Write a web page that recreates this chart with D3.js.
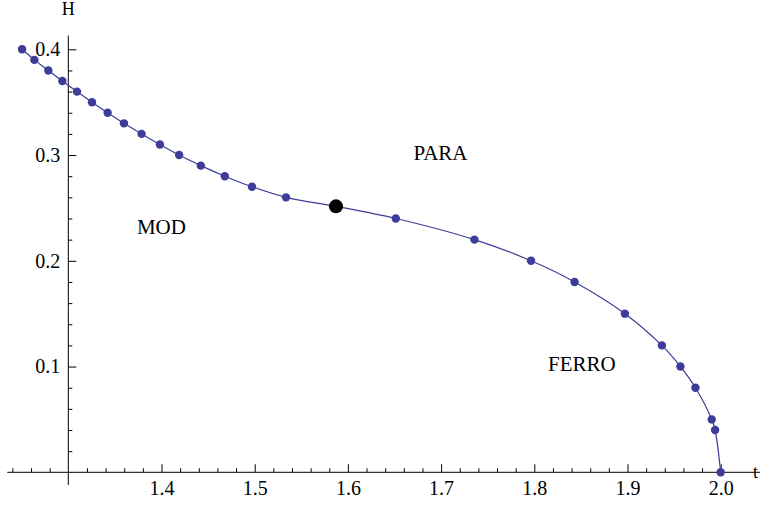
<!DOCTYPE html>
<html>
<head>
<meta charset="utf-8">
<script src="https://cdn.jsdelivr.net/npm/d3@7"></script>
<style>
  html, body { margin: 0; padding: 0; background: #fff; }
  svg { display: block; }
</style>
</head>
<body>
<svg id="chart" width="760" height="505"></svg>
<script>
// Phase boundary H(t): transition points
const tValues = [1.2504, 1.2636, 1.2786, 1.2936, 1.3093, 1.3254, 1.3422, 1.3597, 1.3786, 1.3983,
                 1.4189, 1.4422, 1.4679, 1.4971, 1.5336, 1.6514, 1.7358, 1.7965, 1.8432, 1.8972,
                 1.9369, 1.9568, 1.9729, 1.9904, 1.9940, 2.0000];
const hValues = [0.40, 0.39, 0.38, 0.37, 0.36, 0.35, 0.34, 0.33, 0.32, 0.31,
                 0.30, 0.29, 0.28, 0.27, 0.26, 0.24, 0.22, 0.20, 0.18, 0.15,
                 0.12, 0.10, 0.08, 0.05, 0.04, 0.00];
// Tricritical point
const tricritical = [1.5872, 0.2515];

const xMajorTicks = [1.4, 1.5, 1.6, 1.7, 1.8, 1.9, 2.0];
const xTickLabels = ["1.4", "1.5", "1.6", "1.7", "1.8", "1.9", "2.0"];
const yMajorTicks = [0.1, 0.2, 0.3, 0.4];
const yTickLabels = ["0.1", "0.2", "0.3", "0.4"];

const regionNames = ["MOD", "PARA", "FERRO"];
const regionT = [1.3999, 1.6993, 1.8510];
const regionH = [0.225, 0.295, 0.096];

const FONT = '"Liberation Serif", "Times New Roman", Times, serif';

const svg = d3.select("#chart").attr("font-family", FONT);

const x = d3.scaleLinear().domain([1.3, 2.0]).range([68.3, 720.7]);
const y = d3.scaleLinear().domain([0, 0.4]).range([472.3, 49.3]);

const xExtent = [1.2345, 2.0717];
const yExtent = [-0.012, 0.413];

const blue = "#3d3d99";
const axisColor = "#000";

// Axis lines
svg.append("line")
  .attr("x1", x(xExtent[0])).attr("x2", x(xExtent[1]))
  .attr("y1", y(0)).attr("y2", y(0))
  .attr("stroke", axisColor).attr("stroke-width", 1);
svg.append("line")
  .attr("x1", x(1.3)).attr("x2", x(1.3))
  .attr("y1", y(yExtent[0])).attr("y2", y(yExtent[1]))
  .attr("stroke", axisColor).attr("stroke-width", 1);

// Minor ticks every 0.02
const xMinor = d3.range(62, 100).map(i => i / 50).filter(v => v >= xExtent[0] && v <= xExtent[1] && Math.abs(v * 10 - Math.round(v * 10)) > 1e-6);
const yMinor = d3.range(1, 20).map(i => i / 50).filter(v => Math.abs(v * 10 - Math.round(v * 10)) > 1e-6);

const xAxisMinor = d3.axisBottom(x).tickValues(xMinor).tickSize(-4).tickFormat("");
const xAxisMajor = d3.axisBottom(x).tickValues(xMajorTicks).tickSize(-8).tickPadding(9)
  .tickFormat((d, i) => xTickLabels[i]);
const yAxisMinor = d3.axisLeft(y).tickValues(yMinor).tickSize(-4).tickFormat("");
const yAxisMajor = d3.axisLeft(y).tickValues(yMajorTicks).tickSize(-8).tickPadding(8)
  .tickFormat((d, i) => yTickLabels[i]);

function styleAxis(g) {
  g.attr("font-family", FONT).attr("font-size", 20);
  g.select(".domain").remove();
  g.selectAll(".tick line").attr("stroke", axisColor).attr("stroke-width", 1);
  g.selectAll(".tick text")
    .attr("fill", "#000")
    .attr("font-family", FONT)
    .attr("font-size", 20);
}

svg.append("g").attr("transform", `translate(0,${y(0)})`).call(xAxisMinor).call(styleAxis);
svg.append("g").attr("transform", `translate(0,${y(0)})`).call(xAxisMajor).call(styleAxis);
svg.append("g").attr("transform", `translate(${x(1.3)},0)`).call(yAxisMinor).call(styleAxis);
svg.append("g").attr("transform", `translate(${x(1.3)},0)`).call(yAxisMajor).call(styleAxis);

// Axis names
svg.append("text").attr("x", x(1.3)).attr("y", 15)
  .attr("text-anchor", "middle").attr("font-family", FONT).attr("font-size", 18).text("H");
svg.append("text").attr("x", 753).attr("y", y(0) + 6)
  .attr("text-anchor", "start").attr("font-family", FONT).attr("font-size", 18).text("t");

// Boundary curve through all points, tricritical point included
const pts = tValues.map((t, i) => [t, hValues[i]]);
const linePts = pts.concat([tricritical]).sort((a, b) => a[0] - b[0]);
const line = d3.line()
  .x(d => x(d[0])).y(d => y(d[1]))
  .curve(d3.curveCatmullRom.alpha(0.5));
svg.append("path")
  .datum(linePts)
  .attr("d", line)
  .attr("fill", "none")
  .attr("stroke", blue)
  .attr("stroke-width", 1.2);

svg.append("g").selectAll("circle")
  .data(pts)
  .join("circle")
  .attr("cx", d => x(d[0]))
  .attr("cy", d => y(d[1]))
  .attr("r", 4.2)
  .attr("fill", blue);

svg.append("circle")
  .attr("cx", x(tricritical[0]))
  .attr("cy", y(tricritical[1]))
  .attr("r", 7)
  .attr("fill", "#000");

// Phase labels
svg.append("g").selectAll("text")
  .data(regionNames)
  .join("text")
  .attr("x", (d, i) => x(regionT[i]))
  .attr("y", (d, i) => y(regionH[i]))
  .attr("text-anchor", "middle")
  .attr("font-family", FONT)
  .attr("font-size", 21)
  .text(d => d);
</script>
</body>
</html>
